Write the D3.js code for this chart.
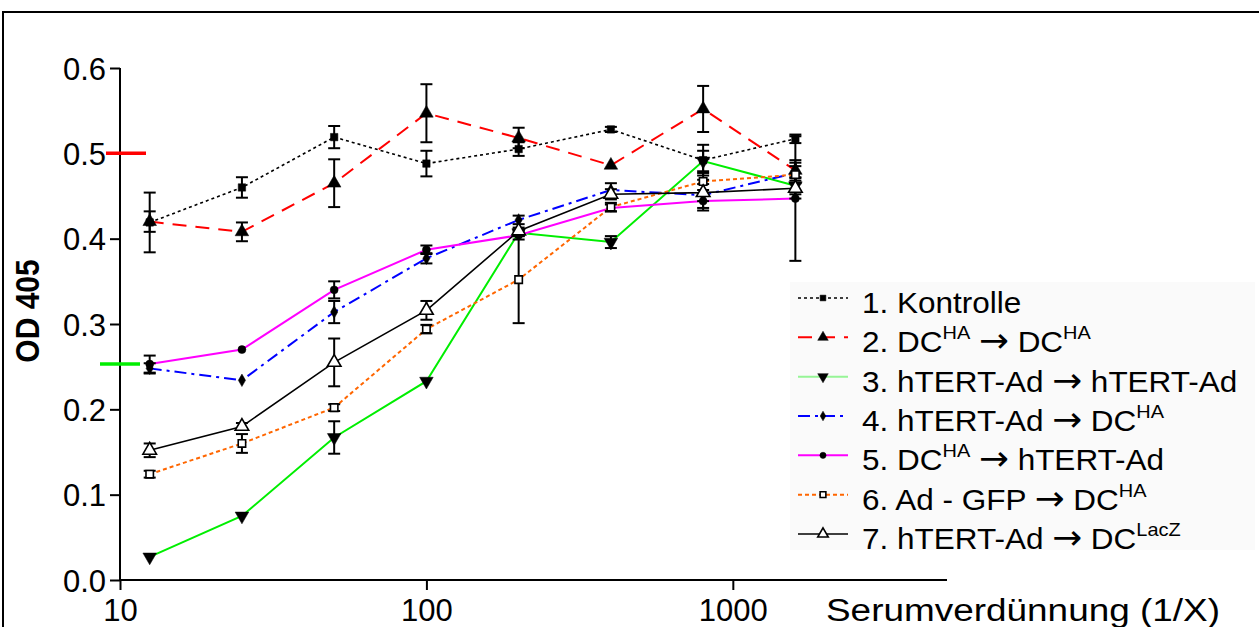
<!DOCTYPE html>
<html lang="en">
<head>
<meta charset="UTF-8">
<title>OD 405</title>
<script src="https://cdn.jsdelivr.net/npm/d3@7"></script>
<style>
	body { margin: 0; background: #fff; }
	text { font-family: Arial, "Liberation Sans", sans-serif; fill: #000; }
</style>
</head>
<body>
<svg id="svg"></svg>
<script>
// serum dilutions (1/X)
var dilutions = [12.5, 25, 50, 100, 200, 400, 800, 1600];

var kontrolle   = [0.419, 0.460, 0.519, 0.488, 0.505, 0.528, 0.492, 0.517];
var kontrolleErr= [0.035, 0.012, 0.013, 0.015, 0.008, 0.003, 0.018, 0.005];
var dcDc        = [0.420, 0.408, 0.465, 0.547, 0.518, 0.486, 0.552, 0.480];
var dcDcErr     = [0.012, 0.011, 0.028, 0.034, 0.012, 0.000, 0.027, 0.012];
var htHt        = [0.027, 0.075, 0.167, 0.233, 0.407, 0.396, 0.491, 0.462];
var htHtErr     = [0.000, 0.000, 0.019, 0.000, 0.004, 0.007, 0.012, 0.010];
var htDc        = [0.248, 0.234, 0.314, 0.377, 0.422, 0.457, 0.451, 0.477];
var htDcErr     = [0.006, 0.000, 0.013, 0.006, 0.005, 0.008, 0.018, 0.012];
var dcHt        = [0.253, 0.270, 0.340, 0.387, 0.404, 0.436, 0.444, 0.447];
var dcHtErr     = [0.010, 0.000, 0.010, 0.005, 0.005, 0.004, 0.008, 0.073];
var gfpDc       = [0.124, 0.160, 0.202, 0.294, 0.352, 0.437, 0.467, 0.475];
var gfpDcErr    = [0.004, 0.011, 0.004, 0.005, 0.051, 0.005, 0.010, 0.010];
var htLacZ      = [0.152, 0.180, 0.255, 0.316, 0.409, 0.452, 0.454, 0.459];
var htLacZErr   = [0.008, 0.004, 0.028, 0.011, 0.004, 0.006, 0.010, 0.012];

var yTicks = [0, 0.1, 0.2, 0.3, 0.4, 0.5, 0.6];
var xTicks = [10, 100, 1000];
// cut-off marks on the y axis
var redMark = 0.5, greenMark = 0.253;

// legend label pieces: plain text, "^" = superscript, ">" = arrow
var series = [
	{ parts: ["1. Kontrolle"], v: kontrolle, e: kontrolleErr, color: "#000", dash: "3,3", w: 1.6, sym: "square", fill: "#000" },
	{ parts: ["2. DC", "^HA", " ", ">", " DC", "^HA"], v: dcDc, e: dcDcErr, color: "#ff0000", dash: "14,9", w: 2, sym: "triUp", fill: "#000" },
	{ parts: ["3. hTERT-Ad ", ">", " hTERT-Ad"], v: htHt, e: htHtErr, color: "#00ee00", dash: null, w: 2, sym: "triDown", fill: "#000" },
	{ parts: ["4. hTERT-Ad ", ">", " DC", "^HA"], v: htDc, e: htDcErr, color: "#0000ff", dash: "12,5,3,5", w: 2, sym: "diamond", fill: "#000" },
	{ parts: ["5. DC", "^HA", " ", ">", " hTERT-Ad"], v: dcHt, e: dcHtErr, color: "#ff00ff", dash: null, w: 2, sym: "circle", fill: "#000" },
	{ parts: ["6. Ad - GFP ", ">", " DC", "^HA"], v: gfpDc, e: gfpDcErr, color: "#ff6600", dash: "4,3", w: 2, sym: "square", fill: "#fff" },
	{ parts: ["7. hTERT-Ad ", ">", " DC", "^LacZ"], v: htLacZ, e: htLacZErr, color: "#000", dash: null, w: 1.6, sym: "triUp", fill: "#fff" }
];

var W = 1259, H = 627;
var svg = d3.select("#svg").attr("width", W).attr("height", H);

var x = d3.scaleLog().domain([10, 5000]).range([120, 947]);
var y = d3.scaleLinear().domain([0, 0.6]).range([580, 68]);

// outer frame
svg.append("rect").attr("x", 3).attr("y", 12).attr("width", W + 10).attr("height", H + 10)
	.attr("fill", "none").attr("stroke", "#000").attr("stroke-width", 2);

// axes
var yAxis = svg.append("g").attr("transform", "translate(120,0)")
	.call(d3.axisLeft(y).tickValues(yTicks).tickFormat(d3.format(".1f")).tickSize(10).tickPadding(4));
var xAxis = svg.append("g").attr("transform", "translate(0,580)")
	.call(d3.axisBottom(x).tickValues(xTicks).tickFormat(d3.format("d")).tickSize(10).tickPadding(9));
[yAxis, xAxis].forEach(function(a) {
	a.select(".domain").attr("stroke", "#000").attr("stroke-width", 2);
	a.selectAll(".tick line").attr("stroke", "#000").attr("stroke-width", 2);
	a.selectAll("text").style("font-size", "31px").attr("fill", "#000");
});
yAxis.selectAll("text").attr("dy", "0.36em");
yAxis.select(".domain").attr("d", "M0," + y(0.6) + "V" + y(0));
xAxis.select(".domain").attr("d", "M" + x(10) + ",0H" + x(5000));

// cut-off marks
svg.append("line").attr("x1", 106).attr("x2", 146).attr("y1", y(redMark)).attr("y2", y(redMark))
	.attr("stroke", "#ff0000").attr("stroke-width", 3.5);
svg.append("line").attr("x1", 100).attr("x2", 140).attr("y1", y(greenMark)).attr("y2", y(greenMark))
	.attr("stroke", "#00ee00").attr("stroke-width", 3.5);

// axis titles
svg.append("text").attr("transform", "translate(39,311) rotate(-90) scale(1,1.12)")
	.attr("text-anchor", "middle").style("font-size", "30px").style("font-weight", "bold").text("OD 405");
svg.append("text").attr("x", 826).attr("y", 621).style("font-size", "31px")
	.attr("textLength", 394).attr("lengthAdjust", "spacingAndGlyphs").text("Serumverd\u00fcnnung (1/X)");

function symbolPath(kind, size) {
	var t = { square: d3.symbolSquare, triUp: d3.symbolTriangle, triDown: d3.symbolTriangle,
		diamond: d3.symbolDiamond, circle: d3.symbolCircle }[kind];
	return d3.symbol().type(t).size(size)();
}
function symSize(s) {
	return { square: 55, triUp: 80, triDown: 80, diamond: 45, circle: 50 }[s.sym];
}

var line = d3.line().x(function(d) { return x(d[0]); }).y(function(d) { return y(d[1]); });

// lines
series.forEach(function(s) {
	var pts = dilutions.map(function(d, i) { return [d, s.v[i]]; });
	svg.append("path").attr("d", line(pts)).attr("fill", "none")
		.attr("stroke", s.color).attr("stroke-width", s.w)
		.attr("stroke-dasharray", s.dash);
});

// error bars
series.forEach(function(s) {
	var g = svg.append("g").attr("stroke", "#000").attr("stroke-width", 2);
	dilutions.forEach(function(d, i) {
		if (!s.e[i]) return;
		var cx = x(d), y1 = y(s.v[i] + s.e[i]), y2 = y(s.v[i] - s.e[i]);
		g.append("line").attr("x1", cx).attr("x2", cx).attr("y1", y1).attr("y2", y2);
		g.append("line").attr("x1", cx - 6).attr("x2", cx + 6).attr("y1", y1).attr("y2", y1);
		g.append("line").attr("x1", cx - 6).attr("x2", cx + 6).attr("y1", y2).attr("y2", y2);
	});
});

// markers
series.forEach(function(s) {
	svg.append("g").selectAll("path").data(dilutions).enter().append("path")
		.attr("d", symbolPath(s.sym, symSize(s)))
		.attr("transform", function(d, i) {
			return "translate(" + x(d) + "," + y(s.v[i]) + ")" + (s.sym === "triDown" ? " rotate(180)" : "");
		})
		.attr("fill", s.fill).attr("stroke", "#000").attr("stroke-width", s.fill === "#fff" ? 1.6 : 0.5);
});

// legend
var leg = svg.append("g");
leg.append("rect").attr("x", 790).attr("y", 282).attr("width", 465).attr("height", 268).attr("fill", "#fafafa");
var legY = d3.scalePoint().domain(d3.range(series.length)).range([298, 534]);
series.forEach(function(s, i) {
	var ly = legY(i);
	leg.append("line").attr("x1", 798).attr("x2", 848).attr("y1", ly).attr("y2", ly)
		.attr("stroke", s.color).attr("stroke-width", s.w).attr("stroke-dasharray", s.dash)
		.attr("stroke-opacity", s.color === "#00ee00" ? 0.4 : 1);
	leg.append("path").attr("d", symbolPath(s.sym, symSize(s) * 0.6))
		.attr("transform", "translate(823," + ly + ")" + (s.sym === "triDown" ? " rotate(180)" : ""))
		.attr("fill", s.fill).attr("stroke", "#000").attr("stroke-width", s.fill === "#fff" ? 1.6 : 0.5);
	var t = leg.append("text").attr("transform", "translate(862," + (ly + 15) + ") scale(1.05,1)")
		.style("font-size", "30px");
	var raised = false;
	s.parts.forEach(function(p) {
		var sp = t.append("tspan");
		if (p[0] === "^") {
			sp.attr("dy", -13).style("font-size", "19px").text(p.slice(1));
			raised = true;
			return;
		}
		if (raised) { sp.attr("dy", 13); raised = false; }
		if (p === ">") {
			sp.style("font-family", "'DejaVu Sans'").style("font-size", "34px").text("\u2192");
		} else {
			sp.text(p);
		}
	});
});
</script>
</body>
</html>
